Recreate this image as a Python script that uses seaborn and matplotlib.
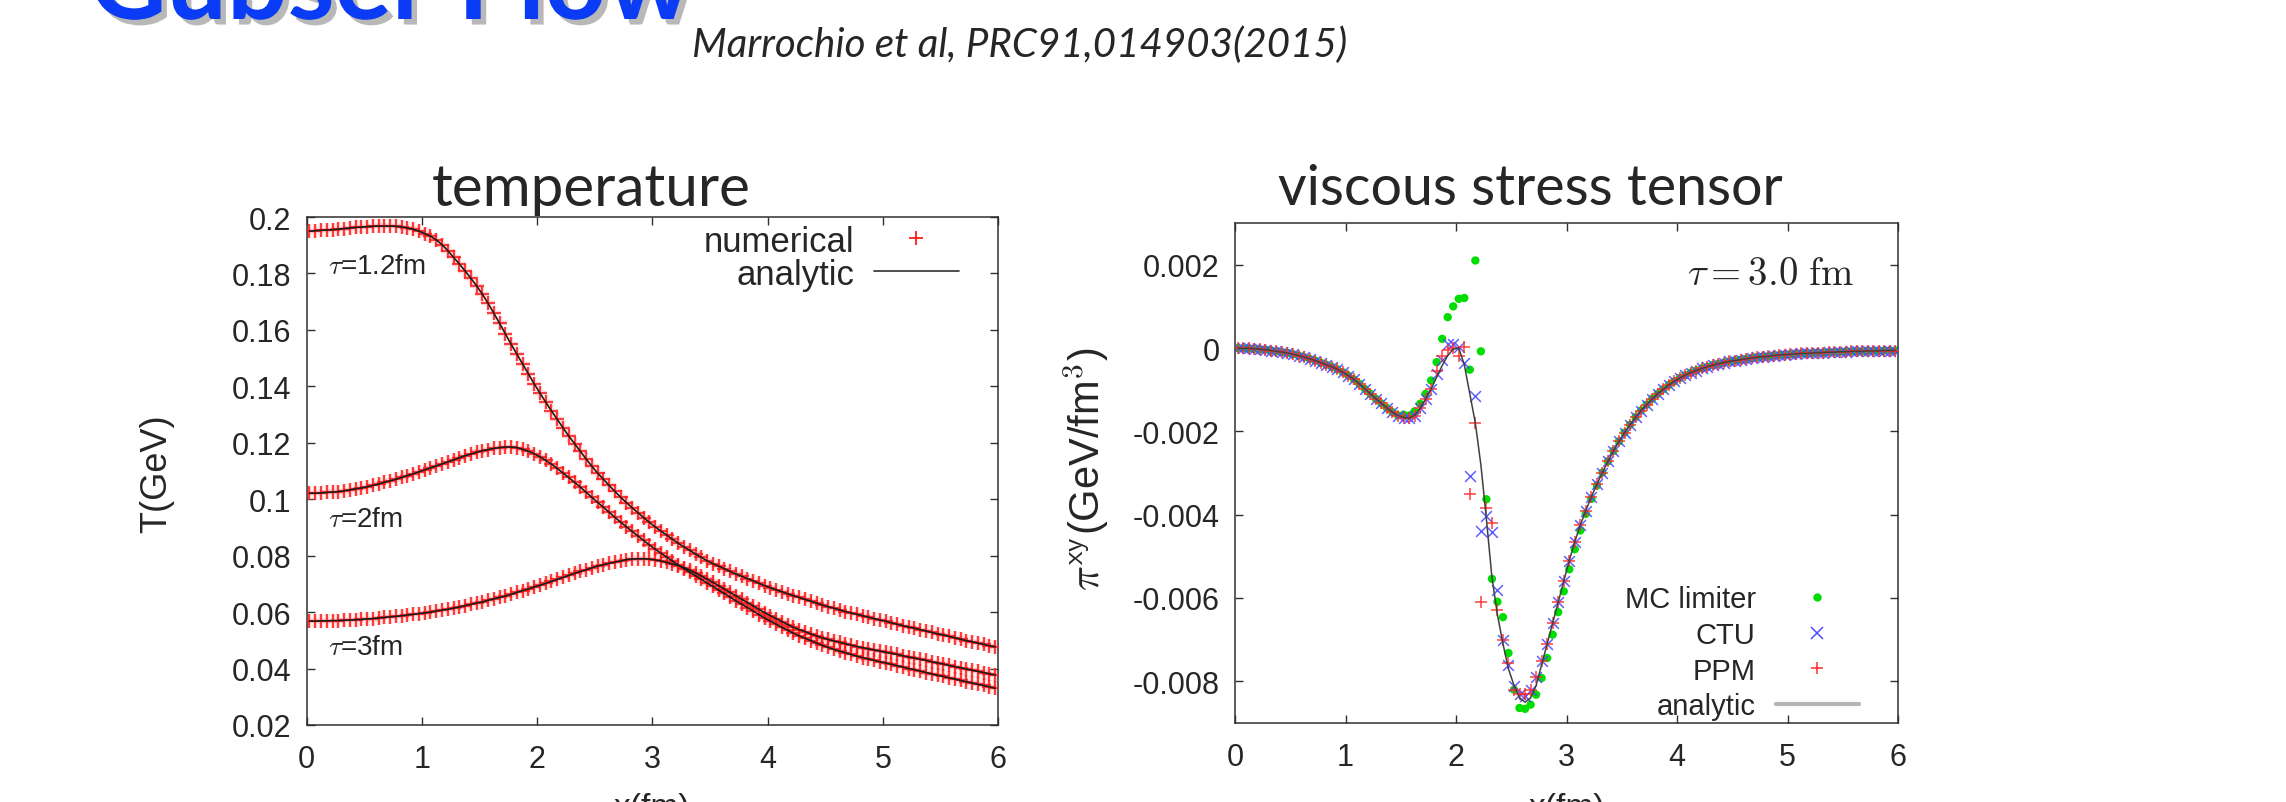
import matplotlib
matplotlib.use("Agg")
import matplotlib.pyplot as plt
import matplotlib.patheffects as pe
from matplotlib.lines import Line2D
from matplotlib.ticker import FuncFormatter
import numpy as np
import pandas as pd
import seaborn as sns

# ---------------------------------------------------------------------------
# Data: cell-centred grid in x (fm)
# ---------------------------------------------------------------------------
x_fm = [round(0.025 + 0.05 * k, 3) for k in range(120)]

# Temperature (GeV) at three proper times
T_tau12 = [
    0.1950, 0.1951, 0.1953, 0.1954, 0.1955, 0.1957, 0.1959, 0.1961, 0.1963, 0.1964,
    0.1966, 0.1967, 0.1968, 0.1968, 0.1968, 0.1967, 0.1965, 0.1961, 0.1956, 0.1950,
    0.1941, 0.1932, 0.1919, 0.1902, 0.1881, 0.1857, 0.1834, 0.1809, 0.1783, 0.1756,
    0.1727, 0.1694, 0.1659, 0.1623, 0.1586, 0.1549, 0.1514, 0.1479, 0.1444, 0.1409,
    0.1376, 0.1344, 0.1313, 0.1283, 0.1253, 0.1224, 0.1197, 0.1170, 0.1143, 0.1117,
    0.1093, 0.1071, 0.1049, 0.1028, 0.1007, 0.0988, 0.0970, 0.0952, 0.0935, 0.0918,
    0.0902, 0.0887, 0.0873, 0.0858, 0.0844, 0.0831, 0.0819, 0.0806, 0.0794, 0.0782,
    0.0772, 0.0763, 0.0754, 0.0744, 0.0735, 0.0727, 0.0719, 0.0711, 0.0702, 0.0694,
    0.0686, 0.0679, 0.0672, 0.0665, 0.0658, 0.0652, 0.0645, 0.0639, 0.0632, 0.0625,
    0.0619, 0.0614, 0.0608, 0.0602, 0.0597, 0.0592, 0.0587, 0.0582, 0.0577, 0.0572,
    0.0568, 0.0562, 0.0557, 0.0552, 0.0547, 0.0543, 0.0538, 0.0533, 0.0528, 0.0523,
    0.0519, 0.0514, 0.0509, 0.0504, 0.0499, 0.0495, 0.0490, 0.0486, 0.0481, 0.0477,
]
T_tau2 = [
    0.1021, 0.1021, 0.1022, 0.1024, 0.1025, 0.1027, 0.1030, 0.1033, 0.1037, 0.1040,
    0.1044, 0.1049, 0.1054, 0.1060, 0.1065, 0.1071, 0.1077, 0.1084, 0.1090, 0.1097,
    0.1104, 0.1111, 0.1118, 0.1125, 0.1132, 0.1139, 0.1147, 0.1154, 0.1160, 0.1166,
    0.1172, 0.1176, 0.1180, 0.1183, 0.1185, 0.1185, 0.1183, 0.1177, 0.1170, 0.1161,
    0.1150, 0.1138, 0.1124, 0.1109, 0.1093, 0.1077, 0.1060, 0.1043, 0.1025, 0.1007,
    0.0989, 0.0972, 0.0954, 0.0936, 0.0919, 0.0902, 0.0886, 0.0870, 0.0854, 0.0838,
    0.0823, 0.0809, 0.0795, 0.0781, 0.0767, 0.0754, 0.0741, 0.0729, 0.0716, 0.0703,
    0.0691, 0.0678, 0.0666, 0.0653, 0.0640, 0.0628, 0.0616, 0.0604, 0.0591, 0.0579,
    0.0568, 0.0557, 0.0546, 0.0536, 0.0525, 0.0516, 0.0507, 0.0499, 0.0490, 0.0482,
    0.0475, 0.0468, 0.0462, 0.0456, 0.0450, 0.0444, 0.0439, 0.0434, 0.0429, 0.0424,
    0.0420, 0.0415, 0.0410, 0.0405, 0.0400, 0.0396, 0.0391, 0.0386, 0.0381, 0.0376,
    0.0372, 0.0367, 0.0363, 0.0358, 0.0353, 0.0349, 0.0344, 0.0340, 0.0335, 0.0330,
]
T_tau3 = [
    0.0568, 0.0568, 0.0569, 0.0569, 0.0570, 0.0570, 0.0571, 0.0572, 0.0573, 0.0574,
    0.0576, 0.0577, 0.0579, 0.0581, 0.0583, 0.0585, 0.0587, 0.0590, 0.0592, 0.0595,
    0.0597, 0.0600, 0.0604, 0.0607, 0.0610, 0.0614, 0.0618, 0.0623, 0.0627, 0.0632,
    0.0636, 0.0642, 0.0647, 0.0652, 0.0657, 0.0663, 0.0670, 0.0676, 0.0682, 0.0689,
    0.0695, 0.0702, 0.0709, 0.0716, 0.0723, 0.0730, 0.0737, 0.0744, 0.0750, 0.0757,
    0.0763, 0.0768, 0.0773, 0.0777, 0.0781, 0.0786, 0.0788, 0.0789, 0.0789, 0.0788,
    0.0785, 0.0781, 0.0776, 0.0770, 0.0765, 0.0758, 0.0749, 0.0739, 0.0728, 0.0717,
    0.0706, 0.0694, 0.0682, 0.0670, 0.0658, 0.0646, 0.0634, 0.0622, 0.0610, 0.0598,
    0.0587, 0.0577, 0.0566, 0.0556, 0.0546, 0.0538, 0.0531, 0.0523, 0.0516, 0.0509,
    0.0503, 0.0498, 0.0493, 0.0488, 0.0483, 0.0478, 0.0474, 0.0470, 0.0466, 0.0462,
    0.0458, 0.0454, 0.0450, 0.0445, 0.0441, 0.0437, 0.0433, 0.0429, 0.0424, 0.0420,
    0.0416, 0.0411, 0.0407, 0.0403, 0.0398, 0.0394, 0.0390, 0.0386, 0.0381, 0.0377,
]
tau_labels = ["τ=1.2fm", "τ=2fm", "τ=3fm"]

# Shear stress pi^xy at tau = 3.0 fm, in units of 1e-3 GeV/fm^3
pi_analytic = [
    0.00, -0.01, -0.01, -0.02, -0.03, -0.04, -0.06, -0.08, -0.10, -0.12,
    -0.15, -0.18, -0.22, -0.26, -0.30, -0.35, -0.40, -0.45, -0.51, -0.58,
    -0.66, -0.75, -0.86, -0.98, -1.10, -1.22, -1.33, -1.44, -1.54, -1.62,
    -1.67, -1.68, -1.62, -1.45, -1.22, -0.98, -0.70, -0.42, -0.18, -0.03,
    0.00, -0.40, -1.10, -1.80, -2.80, -4.10, -5.50, -6.40, -7.10, -7.70,
    -8.10, -8.40, -8.50, -8.40, -8.10, -7.60, -7.10, -6.60, -6.10, -5.60,
    -5.10, -4.65, -4.25, -3.90, -3.57, -3.27, -2.99, -2.72, -2.47, -2.24,
    -2.03, -1.84, -1.66, -1.50, -1.36, -1.22, -1.10, -0.99, -0.89, -0.80,
    -0.72, -0.65, -0.59, -0.54, -0.49, -0.45, -0.41, -0.38, -0.35, -0.32,
    -0.30, -0.28, -0.26, -0.24, -0.22, -0.21, -0.20, -0.18, -0.17, -0.16,
    -0.15, -0.14, -0.13, -0.13, -0.12, -0.11, -0.11, -0.10, -0.10, -0.09,
    -0.09, -0.08, -0.08, -0.08, -0.07, -0.07, -0.07, -0.06, -0.06, -0.06,
]
pi_mc = [
    0.00, -0.01, -0.01, -0.02, -0.03, -0.04, -0.06, -0.08, -0.10, -0.12,
    -0.15, -0.18, -0.22, -0.26, -0.30, -0.35, -0.40, -0.45, -0.51, -0.58,
    -0.66, -0.75, -0.86, -0.98, -1.10, -1.22, -1.33, -1.44, -1.54, -1.62,
    -1.60, -1.62, -1.52, -1.34, -1.10, -0.78, -0.34, 0.22, 0.74, 1.00,
    1.18, 1.20, -0.52, 2.10, -0.08, -3.63, -5.54, -6.09, -6.46, -7.32,
    -8.20, -8.64, -8.66, -8.56, -8.32, -7.92, -7.44, -6.88, -6.34, -5.84,
    -5.31, -4.83, -4.38, -3.98, -3.62, -3.30, -2.99, -2.72, -2.47, -2.24,
    -2.03, -1.84, -1.66, -1.50, -1.36, -1.22, -1.10, -0.99, -0.89, -0.80,
    -0.72, -0.65, -0.59, -0.54, -0.49, -0.45, -0.41, -0.38, -0.35, -0.32,
    -0.30, -0.28, -0.26, -0.24, -0.22, -0.21, -0.20, -0.18, -0.17, -0.16,
    -0.15, -0.14, -0.13, -0.13, -0.12, -0.11, -0.11, -0.10, -0.10, -0.09,
    -0.09, -0.08, -0.08, -0.08, -0.07, -0.07, -0.07, -0.06, -0.06, -0.06,
]
pi_ctu = [
    0.00, -0.01, -0.01, -0.02, -0.03, -0.04, -0.06, -0.08, -0.10, -0.12,
    -0.15, -0.18, -0.22, -0.26, -0.30, -0.35, -0.40, -0.45, -0.51, -0.58,
    -0.66, -0.75, -0.86, -0.98, -1.10, -1.22, -1.33, -1.44, -1.54, -1.62,
    -1.67, -1.68, -1.62, -1.45, -1.22, -0.98, -0.62, -0.28, 0.10, 0.10,
    0.02, -0.35, -3.08, -1.14, -4.40, -4.03, -4.41, -5.81, -7.00, -7.60,
    -8.10, -8.30, -8.35, -8.20, -7.90, -7.50, -7.10, -6.60, -6.10, -5.60,
    -5.10, -4.65, -4.25, -3.90, -3.57, -3.27, -2.99, -2.72, -2.47, -2.24,
    -2.03, -1.84, -1.66, -1.50, -1.36, -1.22, -1.10, -0.99, -0.89, -0.80,
    -0.72, -0.65, -0.59, -0.54, -0.49, -0.45, -0.41, -0.38, -0.35, -0.32,
    -0.30, -0.28, -0.26, -0.24, -0.22, -0.21, -0.20, -0.18, -0.17, -0.16,
    -0.15, -0.14, -0.13, -0.13, -0.12, -0.11, -0.11, -0.10, -0.10, -0.09,
    -0.09, -0.08, -0.08, -0.08, -0.07, -0.07, -0.07, -0.06, -0.06, -0.06,
]
pi_ppm = [
    0.00, -0.01, -0.01, -0.02, -0.03, -0.04, -0.06, -0.08, -0.10, -0.12,
    -0.15, -0.18, -0.22, -0.26, -0.30, -0.35, -0.40, -0.45, -0.51, -0.58,
    -0.66, -0.75, -0.86, -0.98, -1.10, -1.22, -1.33, -1.44, -1.54, -1.62,
    -1.67, -1.68, -1.62, -1.45, -1.22, -0.98, -0.55, -0.18, -0.05, 0.00,
    -0.20, 0.02, -3.50, -1.80, -6.10, -3.83, -4.20, -6.29, -7.00, -7.56,
    -8.20, -8.30, -8.30, -8.20, -7.90, -7.50, -7.10, -6.60, -6.10, -5.60,
    -5.10, -4.65, -4.25, -3.90, -3.57, -3.27, -2.99, -2.72, -2.47, -2.24,
    -2.03, -1.84, -1.66, -1.50, -1.36, -1.22, -1.10, -0.99, -0.89, -0.80,
    -0.72, -0.65, -0.59, -0.54, -0.49, -0.45, -0.41, -0.38, -0.35, -0.32,
    -0.30, -0.28, -0.26, -0.24, -0.22, -0.21, -0.20, -0.18, -0.17, -0.16,
    -0.15, -0.14, -0.13, -0.13, -0.12, -0.11, -0.11, -0.10, -0.10, -0.09,
    -0.09, -0.08, -0.08, -0.08, -0.07, -0.07, -0.07, -0.06, -0.06, -0.06,
]
pi_scale = 1e-3  # GeV/fm^3 per unit of the lists above

T_ticks = [0.02, 0.04, 0.06, 0.08, 0.1, 0.12, 0.14, 0.16, 0.18, 0.2]
pi_ticks = [-0.008, -0.006, -0.004, -0.002, 0.0, 0.002]
x_ticks = [0, 1, 2, 3, 4, 5, 6]

# ---------------------------------------------------------------------------
# Tables
# ---------------------------------------------------------------------------
df_T = pd.concat(
    [pd.DataFrame({"x": x_fm, "T": vals, "tau": lab})
     for vals, lab in zip([T_tau12, T_tau2, T_tau3], tau_labels)],
    ignore_index=True)

df_pi = pd.DataFrame({
    "x": x_fm,
    "analytic": np.array(pi_analytic) * pi_scale,
    "MC limiter": np.array(pi_mc) * pi_scale,
    "CTU": np.array(pi_ctu) * pi_scale,
    "PPM": np.array(pi_ppm) * pi_scale,
})

# ---------------------------------------------------------------------------
# Style
# ---------------------------------------------------------------------------
sns.set_theme(style="ticks")
plt.rcParams["font.family"] = ["Liberation Sans", "DejaVu Sans"]
plt.rcParams["mathtext.fontset"] = "cm"
plt.rcParams["axes.edgecolor"] = "#303030"
plt.rcParams["axes.linewidth"] = 1.1

W, H = 2286, 803
fig = plt.figure(figsize=(W / 100, H / 100), dpi=100)
fig.patch.set_facecolor("white")

def px_axes(left, top, right, bottom):
    return fig.add_axes([left / W, 1 - bottom / H, (right - left) / W, (bottom - top) / H])

axT = px_axes(306.6, 218, 998, 726)
axP = px_axes(1235, 224, 1898, 724)

gformat = FuncFormatter(lambda v, pos: "%g" % round(v, 6))

for ax in (axT, axP):
    ax.tick_params(direction="in", length=6, width=1.0, top=True, right=True,
                   color="#303030", labelsize=22, pad=11)
    ax.tick_params(axis="x", pad=14)
    ax.set_facecolor("white")
    ax.grid(False)

# ---------------------------------------------------------------------------
# Left panel: temperature
# ---------------------------------------------------------------------------
red_plus = "#ff1a1a"
sns.scatterplot(data=df_T, x="x", y="T", ax=axT, marker="+", s=110,
                color="#ff8080", linewidth=3.2, alpha=0.35, legend=False, zorder=2)
sns.scatterplot(data=df_T, x="x", y="T", ax=axT, marker="+", s=110,
                color=red_plus, linewidth=1.3, alpha=0.9, legend=False, zorder=3)
for lab in tau_labels:
    sns.lineplot(data=df_T[df_T["tau"] == lab], x="x", y="T", ax=axT,
                 color="#1c1c1c", lw=1.2, legend=False, sort=False, zorder=4)

axT.set_xlim(0, 6)
axT.set_ylim(0.02, 0.2)
axT.set_xticks(x_ticks)
axT.set_yticks(T_ticks)
axT.yaxis.set_major_formatter(gformat)
axT.set_xlabel("x(fm)", fontsize=24)
axT.xaxis.set_label_coords(0.5, -0.132)
axT.set_ylabel("T(GeV)", fontsize=26, va="center")
axT.yaxis.set_label_coords(-0.2164, 0.496)

for lab, ty in zip([r"$\tau$=1.2fm", r"$\tau$=2fm", r"$\tau$=3fm"], [0.1826, 0.0930, 0.0476]):
    axT.text(0.19, ty, lab, fontsize=20, va="center", ha="left")

hT = [Line2D([], [], ls="none", marker="+", color=red_plus, ms=10, mew=1.3),
      Line2D([], [], color="#303030", lw=1.2)]
axT.legend(hT, ["numerical", "analytic"], loc="upper right",
           bbox_to_anchor=(0.9436, 0.985), frameon=False, markerfirst=False,
           fontsize=25, handlelength=2.45, handletextpad=0.55, labelspacing=0.0,
           borderpad=0, borderaxespad=0)

# ---------------------------------------------------------------------------
# Right panel: viscous stress tensor
# ---------------------------------------------------------------------------
c_mc, c_ctu, c_ppm = "#00dd00", "#4d4dff", "#ff2a2a"
sns.scatterplot(data=df_pi, x="x", y="MC limiter", ax=axP, marker="o", s=36,
                color=c_mc, edgecolor="none", legend=False, zorder=2)
sns.scatterplot(data=df_pi, x="x", y="CTU", ax=axP, marker="x", s=60,
                color=c_ctu, linewidth=1.1, alpha=0.9, legend=False, zorder=3)
sns.scatterplot(data=df_pi, x="x", y="PPM", ax=axP, marker="+", s=66,
                color=c_ppm, linewidth=1.1, alpha=0.9, legend=False, zorder=4)
sns.lineplot(data=df_pi, x="x", y="analytic", ax=axP, color="#404040", lw=1.1,
             legend=False, zorder=5)

axP.set_xlim(0, 6)
axP.set_ylim(-0.009, 0.003)
axP.set_xticks(x_ticks)
axP.set_yticks(pi_ticks)
axP.yaxis.set_major_formatter(gformat)
axP.set_xlabel("x(fm)", fontsize=24)
axP.xaxis.set_label_coords(0.5, -0.138)
axP.set_ylabel(r"$\pi^{\mathsf{xy}}$(GeV/fm$^{\mathsf{3}}$)", fontsize=30, va="center")
axP.yaxis.set_label_coords(-0.2247, 0.51)
axP.text(0.9336, 0.898, r"$\tau = 3.0\ \mathrm{fm}$", transform=axP.transAxes,
         fontsize=28, ha="right", va="center")

hP = [Line2D([], [], ls="none", marker="o", color=c_mc, ms=6, mec="none"),
      Line2D([], [], ls="none", marker="x", color=c_ctu, ms=8.5, mew=1.1),
      Line2D([], [], ls="none", marker="+", color=c_ppm, ms=8.5, mew=1.1),
      Line2D([], [], color="#b4b4b4", lw=3)]
axP.legend(hP, ["MC limiter", "CTU", "PPM", "analytic"], loc="upper right",
           bbox_to_anchor=(0.941, 0.275), frameon=False, markerfirst=False,
           fontsize=21, handlelength=2.85, handletextpad=0.69, labelspacing=0.26,
           borderpad=0, borderaxespad=0)

# ---------------------------------------------------------------------------
# Slide text
# ---------------------------------------------------------------------------
fig.text(89 / W, 1 - 20 / H, "Gubser Flow", fontsize=77, fontweight="bold",
         family="Lato", color="#0a3cf5", va="baseline", ha="left",
         path_effects=[pe.withSimplePatchShadow(offset=(4, -4), shadow_rgbFace="#7f7f7f", alpha=0.55)])
fig.text(692 / W, 1 - 45 / H, "Marrochio et al, PRC91,014903(2015)", fontsize=29,
         style="italic", family="Lato", va="center", ha="left")
fig.text(591 / W, 1 - 206 / H, "temperature", fontsize=42, family="Lato",
         ha="center", va="baseline")
fig.text(1530 / W, 1 - 205 / H, "viscous stress tensor", fontsize=40, family="Lato",
         ha="center", va="baseline")

fig.savefig("out.png", dpi=100, facecolor="white")
